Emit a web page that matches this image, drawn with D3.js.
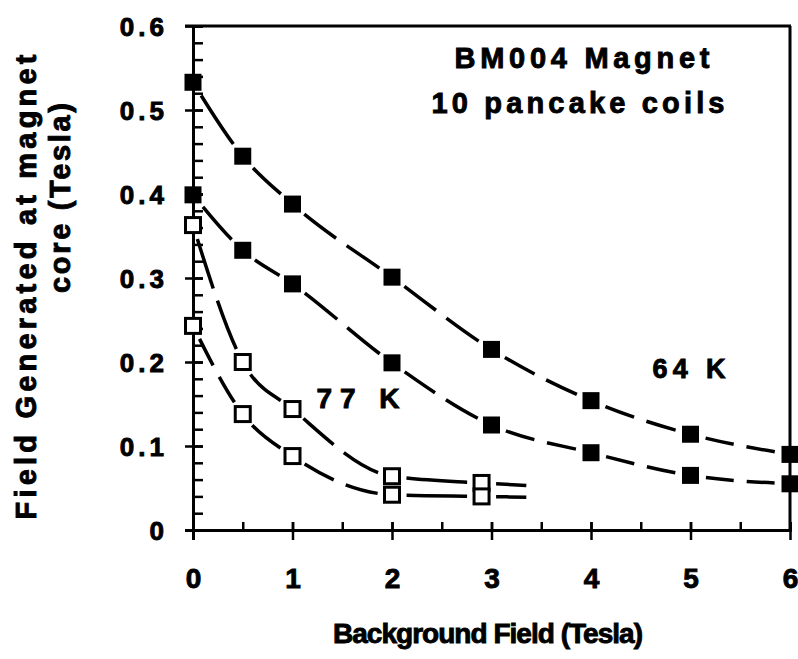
<!DOCTYPE html>
<html>
<head>
<meta charset="utf-8">
<script src="https://cdn.jsdelivr.net/npm/d3@7"></script>
<style>
  body { margin: 0; background: #fff; }
  svg text { font-family: "Liberation Sans", Arial, Helvetica, sans-serif; font-weight: bold; fill: #000;
             stroke: #000; stroke-width: 0.9px; }
</style>
</head>
<body>
<div id="chart"></div>
<script>
// data (x = background field, T ; y = field at core, T)
var xs = [0, 0.5, 1, 2, 3, 4, 5, 6];
var upper64 = [0.533, 0.445, 0.388, 0.301, 0.215, 0.154, 0.114, 0.090];
var lower64 = [0.399, 0.333, 0.293, 0.199, 0.125, 0.092, 0.065, 0.055];

var xs77 = [0, 0.5, 1, 2, 2.9];
var upper77 = [0.363, 0.200, 0.144, 0.064, 0.056];
var lower77 = [0.243, 0.138, 0.088, 0.042, 0.040];
// the fitted 77 K curves run on a little past the last point
var fitEnd77 = { x: 3.35, upper: 0.053, lower: 0.039 };

var xTicks = [0, 1, 2, 3, 4, 5, 6];
var yTicks = [0, 0.1, 0.2, 0.3, 0.4, 0.5, 0.6];

var W = 798, H = 659;

var svg = d3.select("#chart").append("svg")
    .attr("width", W)
    .attr("height", H);

var x = d3.scaleLinear().domain([0, 6]).range([193, 790]);
var y = d3.scaleLinear().domain([0, 0.6]).range([530, 26]);

// frame (top + right)
svg.append("line").attr("x1", 185).attr("x2", 791).attr("y1", y(0.6)).attr("y2", y(0.6))
    .attr("stroke", "#000").attr("stroke-width", 3);
svg.append("line").attr("x1", 790).attr("x2", 790).attr("y1", y(0.6)).attr("y2", y(0) + 1)
    .attr("stroke", "#000").attr("stroke-width", 3);

// fitted curves (dashed)
var line = d3.line()
    .x(function(d) { return x(d[0]); })
    .y(function(d) { return y(d[1]); })
    .curve(d3.curveMonotoneX);

var curves = [
  { pts: d3.zip(xs, upper64), marks: xs, size: 17 },
  { pts: d3.zip(xs, lower64), marks: xs, size: 17 },
  { pts: d3.zip(xs77, upper77).concat([[fitEnd77.x, fitEnd77.upper]]), marks: xs77, size: 15 },
  { pts: d3.zip(xs77, lower77).concat([[fitEnd77.x, fitEnd77.lower]]), marks: xs77, size: 15 }
];

// find the length along a path where it reaches a given screen x
function lengthAtX(node, px, total) {
  var lo = 0, hi = total;
  for (var k = 0; k < 40; k++) {
    var mid = (lo + hi) / 2;
    if (node.getPointAtLength(mid).x < px) lo = mid; else hi = mid;
  }
  return (lo + hi) / 2;
}

// dash pattern: a gap round every marker, even dashes between
function dashFor(node, c) {
  var total = node.getTotalLength();
  var stops = c.marks.map(function(v) { return lengthAtX(node, x(v), total); });
  var ends = stops.slice();
  var lastIsMark = c.pts.length === c.marks.length;
  if (!lastIsMark) ends.push(total);
  var halfGap = c.size / 2 + 7, dash = 40, gap = 13;
  var arr = [0], pos = 0;
  for (var i = 0; i < ends.length - 1; i++) {
    var a = ends[i] + halfGap;
    var b = (i + 1 < stops.length) ? ends[i + 1] - halfGap : ends[i + 1];
    var D = b - a;
    if (D <= 2) continue;
    var n = Math.max(1, Math.round((D + gap) / (dash + gap)));
    var d = (D - (n - 1) * gap) / n;
    for (var j = 0; j < n; j++) {
      var s = a + j * (d + gap);
      arr.push(s - pos, d);
      pos = s + d;
    }
  }
  arr.push(total - pos + 100);
  return arr.join(",");
}

svg.append("g").selectAll("path")
  .data(curves)
  .enter().append("path")
    .attr("d", function(c) { return line(c.pts); })
    .attr("fill", "none")
    .attr("stroke", "#000")
    .attr("stroke-width", 3.5)
    .each(function(c) { d3.select(this).attr("stroke-dasharray", dashFor(this, c)); });

// y axis : majors cross the axis, minors every 0.02 point inward
var yMinor = d3.range(0, 0.6001, 0.02);
var gyIn = svg.append("g").attr("transform", "translate(" + x(0) + ",0)")
    .call(d3.axisRight(y).tickValues(yMinor).tickSize(10).tickFormat(""));
var gy = svg.append("g").attr("transform", "translate(" + x(0) + ",0)")
    .call(d3.axisLeft(y).tickValues(yTicks).tickSize(8).tickPadding(21)
      .tickFormat(function(d) { return d === 0 ? "0" : d3.format(".1f")(d); }));

// x axis : majors cross the axis, minors at halves point up
var xMinor = d3.range(0, 6.001, 0.5);
var gxIn = svg.append("g").attr("transform", "translate(0," + y(0) + ")")
    .call(d3.axisTop(x).tickValues(xMinor).tickSize(8).tickFormat(""));
var gx = svg.append("g").attr("transform", "translate(0," + y(0) + ")")
    .call(d3.axisBottom(x).tickValues(xTicks).tickSize(10).tickPadding(28).tickFormat(d3.format("d")));

[gyIn, gy, gxIn, gx].forEach(function(g) {
  g.selectAll(".domain").attr("stroke", "#000").attr("stroke-width", 3);
  g.selectAll(".tick line").attr("stroke", "#000").attr("stroke-width", 2.5);
});
gx.select(".domain").attr("d", "M185,0.5H791");
gy.select(".domain").attr("d", "M0.5," + y(0.6) + "V" + (y(0) + 10));
gy.selectAll(".tick line").attr("x2", 10).attr("x1", -8);
gx.selectAll(".tick line").attr("y1", -8);

gy.selectAll("text").attr("font-size", 26).style("letter-spacing", "4px")
    .attr("dx", 4).attr("dy", "0.36em");
gx.selectAll("text").attr("font-size", 28);

// markers
function markers(pts, filled) {
  var s = filled ? 17 : 15;
  svg.append("g").selectAll("rect").data(pts).enter().append("rect")
    .attr("x", function(d) { return x(d[0]) - s / 2; })
    .attr("y", function(d) { return y(d[1]) - s / 2; })
    .attr("width", s).attr("height", s)
    .attr("fill", filled ? "#000" : "#fff")
    .attr("stroke", "#000")
    .attr("stroke-width", filled ? 0 : 3);
}
markers(d3.zip(xs, upper64), true);
markers(d3.zip(xs, lower64), true);
markers(d3.zip(xs77, upper77), false);
markers(d3.zip(xs77, lower77), false);

// annotations
function label(txt, cx, by, len, size) {
  svg.append("text")
    .attr("x", cx).attr("y", by)
    .attr("text-anchor", "middle")
    .attr("font-size", size)
    .attr("textLength", len)
    .attr("lengthAdjust", "spacing")
    .text(txt);
}
label("BM004  Magnet", 582, 68, 255, 29);
label("10 pancake coils", 578, 113, 293, 29);
label("64 K", 689, 378, 73, 27);
label("77 K", 358, 408, 83, 28);

// axis titles
label("Background Field (Tesla)", 488, 643, 310, 28);

svg.append("text")
  .attr("transform", "translate(36,287) rotate(-90)")
  .attr("text-anchor", "middle").attr("font-size", 29)
  .attr("textLength", 465).attr("lengthAdjust", "spacing")
  .text("Field Generated at magnet");
svg.append("text")
  .attr("transform", "translate(70,198) rotate(-90)")
  .attr("text-anchor", "middle").attr("font-size", 29)
  .attr("textLength", 190).attr("lengthAdjust", "spacing")
  .text("core (Tesla)");
</script>
</body>
</html>
